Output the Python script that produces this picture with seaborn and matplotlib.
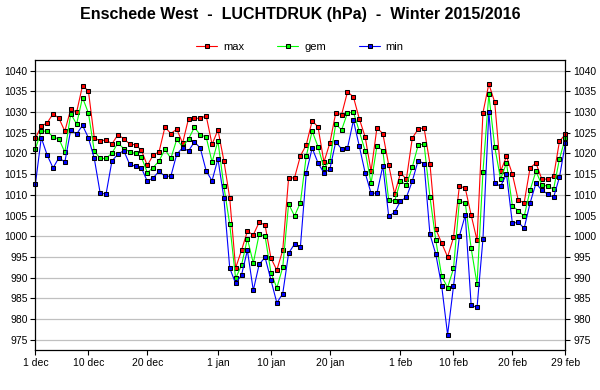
import pandas as pd
import matplotlib
matplotlib.use("Agg")
import matplotlib.pyplot as plt
import seaborn as sns
from matplotlib.lines import Line2D

# daily air pressure (hPa), 1 dec 2015 - 29 feb 2016
p_max = [1023.7, 1026.6, 1027.4, 1029.6, 1028.5, 1025.4, 1030.7, 1030.0, 1036.4, 1035.1,
         1023.8, 1023.0, 1023.3, 1022.3, 1024.5, 1023.6, 1022.3, 1022.1, 1020.8, 1017.1,
         1019.6, 1020.4, 1026.4, 1024.8, 1025.9, 1022.5, 1028.4, 1028.5, 1028.5, 1029.1,
         1022.2, 1025.7, 1018.3, 1009.2, 992.3, 996.6, 1001.2, 1000.3, 1003.4, 1002.7,
         994.7, 991.8, 996.6, 1014.1, 1014.1, 1019.4, 1022.1, 1027.9, 1026.4, 1017.9,
         1022.5, 1029.8, 1029.4, 1034.9, 1033.7, 1028.4, 1024.0, 1015.7, 1026.2, 1024.8,
         1017.2, 1010.2, 1015.3, 1013.8, 1023.7, 1025.9, 1026.2, 1017.5, 1001.7, 998.3,
         995.0, 999.7, 1012.1, 1011.6, 1005.1, 999.0, 1029.8, 1036.8, 1032.4, 1015.7,
         1019.3, 1015.0, 1008.7, 1008.1, 1016.5, 1017.7, 1013.8, 1013.8, 1014.5, 1023.0,
         1024.6]
p_gem = [1021.1, 1025.4, 1025.4, 1024.0, 1023.5, 1020.3, 1029.6, 1027.1, 1033.5, 1029.8,
         1020.6, 1018.8, 1018.8, 1020.1, 1022.5, 1021.2, 1020.4, 1020.0, 1019.1, 1015.4,
         1016.6, 1018.2, 1021.0, 1018.8, 1023.4, 1021.6, 1023.5, 1026.3, 1024.5, 1024.0,
         1017.9, 1023.0, 1012.1, 1002.9, 989.8, 993.0, 999.4, 993.5, 1000.5, 1000.0,
         991.2, 987.5, 992.5, 1007.8, 1004.9, 1008.1, 1019.4, 1025.4, 1021.6, 1016.5,
         1018.2, 1027.1, 1025.7, 1029.8, 1030.0, 1025.4, 1020.6, 1012.8, 1021.8, 1020.7,
         1008.7, 1008.5, 1013.3, 1012.4, 1016.7, 1022.0, 1022.3, 1009.5, 999.0, 990.3,
         987.6, 992.2, 1008.5, 1008.0, 997.1, 988.4, 1015.5, 1034.3, 1021.6, 1013.8,
         1017.7, 1007.3, 1006.2, 1004.8, 1011.1, 1015.7, 1012.4, 1012.1, 1011.4, 1018.7,
         1023.8]
p_min = [1012.6, 1023.8, 1019.6, 1016.5, 1019.0, 1017.9, 1025.7, 1024.7, 1026.8, 1023.8,
         1018.8, 1010.4, 1010.2, 1018.2, 1019.8, 1020.7, 1017.4, 1016.9, 1016.5, 1013.3,
         1014.1, 1015.7, 1014.5, 1014.5, 1019.8, 1021.4, 1020.6, 1022.8, 1021.3, 1015.8,
         1013.4, 1018.7, 1009.3, 992.3, 988.6, 990.6, 996.6, 986.9, 993.2, 994.9,
         989.4, 983.9, 986.1, 995.9, 998.1, 997.4, 1015.3, 1021.3, 1017.7, 1015.3,
         1016.2, 1022.8, 1021.1, 1021.3, 1028.0, 1021.8, 1015.3, 1010.4, 1010.4, 1017.0,
         1004.8, 1005.8, 1008.5, 1009.4, 1013.3, 1018.3, 1017.5, 1000.5, 995.6, 987.9,
         976.2, 987.9, 1000.0, 1005.1, 983.3, 982.8, 999.3, 1030.0, 1012.8, 1012.1,
         1015.0, 1003.1, 1003.4, 1001.9, 1008.0, 1012.8, 1011.1, 1010.2, 1009.4, 1014.3,
         1022.5]

tick_days = [0, 9, 19, 31, 40, 50, 62, 71, 81, 90]
tick_labels = ["1 dec", "10 dec", "20 dec", "1 jan", "10 jan", "20 jan",
               "1 feb", "10 feb", "20 feb", "29 feb"]
series = ["max", "gem", "min"]
colors = {"max": "#ff0000", "gem": "#00ff00", "min": "#0000ff"}

days = list(range(len(p_max)))
df = pd.concat([
    pd.DataFrame({"dag": days, "hPa": p_max, "reeks": "max"}),
    pd.DataFrame({"dag": days, "hPa": p_gem, "reeks": "gem"}),
    pd.DataFrame({"dag": days, "hPa": p_min, "reeks": "min"}),
])

sns.set_theme(style="white")
plt.rcParams["font.family"] = ["Liberation Sans", "DejaVu Sans"]
plt.rcParams["text.color"] = "black"
plt.rcParams["xtick.color"] = "black"
plt.rcParams["ytick.color"] = "black"

fig = plt.figure(figsize=(6, 3.9), dpi=100)
ax = fig.add_axes([0.059, 0.1026, 0.8833, 0.7436])

msize = 2.8
sns.lineplot(data=df, x="dag", y="hPa", hue="reeks", hue_order=series, palette=colors,
             marker="s", markersize=msize, markeredgecolor="black", markeredgewidth=0.75,
             linewidth=0.8, legend=False, ax=ax, clip_on=False)

ax.set_xlim(0, 90)
ax.set_ylim(972.5, 1042.6)
ax.set_yticks(range(975, 1041, 5))
ax.set_xticks(tick_days)
ax.set_xticklabels(tick_labels)
ax.set_xlabel("")
ax.set_ylabel("")
ax.yaxis.grid(True, color="#c0c0c0", linewidth=0.9)
ax.xaxis.grid(False)
ax.set_axisbelow(True)
for s in ax.spines.values():
    s.set_color("black")
    s.set_linewidth(0.9)
ax.tick_params(axis="both", which="both", direction="out", length=3.5, width=0.8,
               color="black", labelsize=7.5, pad=2, left=True, bottom=True,
               right=True, labelright=True)

fig.text(0.5, 1 - 14 / 390, "Enschede West  -  LUCHTDRUK (hPa)  -  Winter 2015/2016",
         ha="center", va="center", fontsize=11.5, fontweight="bold")

handles = [Line2D([], [], color=colors[s], marker="s", markersize=msize,
                  markeredgecolor="black", markeredgewidth=0.75, linewidth=0.8)
           for s in series]
fig.legend(handles, series, loc="center", bbox_to_anchor=(0.5, 1 - 47 / 390), ncol=3,
           frameon=False, fontsize=8, handlelength=1.9, handletextpad=0.5,
           columnspacing=3.0)

plt.savefig("out.png", dpi=100)
